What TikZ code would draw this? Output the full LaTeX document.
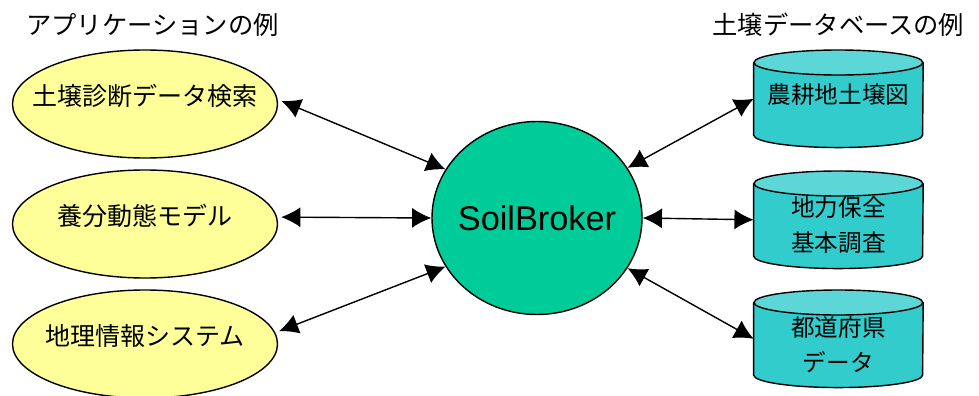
\documentclass[tikz,border=0pt]{standalone}
\usepackage{fontspec}
\setmainfont{Noto Sans CJK JP}
\newfontfamily\arialfont{Liberation Sans}
\usetikzlibrary{arrows.meta,shapes.geometric,backgrounds}
\definecolor{appyellow}{HTML}{FFFF99}
\definecolor{brokergreen}{HTML}{00CC99}
\definecolor{dbbody}{HTML}{33CCCC}
\definecolor{dbtop}{HTML}{5CD6D6}
\tikzset{
  appell/.style={draw,ellipse,line width=1pt,fill=appyellow,minimum width=6.625cm,minimum height=2.7cm,
    inner xsep=-0.6cm,text depth=0.45cm,font=\fontsize{17.8}{22}\selectfont},
  brokerc/.style={draw,ellipse,line width=1pt,fill=brokergreen,minimum width=5.25cm,minimum height=4.825cm,
    inner xsep=-0.3cm,font=\arialfont\fontsize{24.4}{28}\selectfont},
  dbbox/.style={rectangle,minimum width=4.225cm,minimum height=2.425cm,inner sep=0pt,anchor=north},
  dbline/.style={line width=1pt},
  dbtxt/.style={anchor=center,align=center,font=\fontsize{16.8}{24.9}\selectfont},
  ttl/.style={font=\fontsize{18}{22}\selectfont},
  biarr/.style={{Latex[length=0.48cm,width=0.5cm]}-{Latex[length=0.48cm,width=0.5cm]},line width=1pt}
}
\begin{document}
\begin{tikzpicture}
  \useasboundingbox (0,0) rectangle (24.475,-9.9);
  \node[ttl] (apptitle) at (3.81,-0.625) {アプリケーションの例};
  \node[ttl] (dbtitle) at (20.96,-0.625) {土壌データベースの例};

  % applications
  \node[appell] (app1) at (3.625,-2.6) {土壌診断データ検索};
  \node[appell] (app2) at (3.625,-5.6) {養分動態モデル};
  \node[appell] (app3) at (3.625,-8.6) {地理情報システム};

  \node[brokerc] (broker) at (13.425,-5.45) {SoilBroker};

  % databases
  \node[dbbox,label={[dbtxt,yshift=-1.125cm]north:農耕地土壌図}] (db1) at (20.96,-1.25) {};
  \node[dbbox,label={[dbtxt,yshift=-1.36cm]north:地力保全\\基本調査}] (db2) at (20.96,-4.275) {};
  \node[dbbox,label={[dbtxt,yshift=-1.375cm]north:都道府県\\データ}] (db3) at (20.96,-7.25) {};

  \begin{scope}[on background layer]
    \foreach \d in {db1,db2,db3}{
      \draw[dbline,fill=dbbody] ([yshift=-0.3125cm]\d.north west) -- ([yshift=0.3125cm]\d.south west)
        arc[start angle=180,end angle=360,x radius=2.1125cm,y radius=0.3125cm]
        -- ([yshift=-0.3125cm]\d.north east);
      \draw[dbline,fill=dbtop] ([yshift=-0.3125cm]\d.north) ellipse[x radius=2.1125cm,y radius=0.3125cm];
    }
  \end{scope}

  \foreach \a/\b in {app1.2/broker.152, app2.3/broker.west, app3.5/broker.208}
    \draw[biarr,shorten <=0.1cm] (\a)--(\b);
  \foreach \a/\b in {broker.29/db1.west, broker.east/db2.west, broker.-29/db3.west}
    \draw[biarr] (\a)--(\b);
\end{tikzpicture}
\end{document}
